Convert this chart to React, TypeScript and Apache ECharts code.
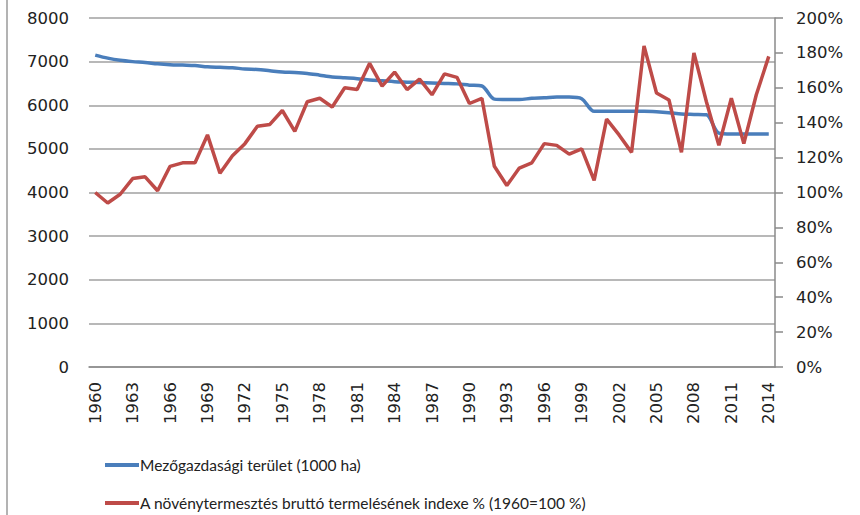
import React, { useEffect, useRef } from "react";
import * as echarts from "echarts";

const years: string[] = [];
for (let y = 1960; y <= 2014; y++) years.push(String(y));

const landArea = [
  7150, 7080, 7030, 7000, 6980, 6950, 6930, 6920, 6910, 6880,
  6870, 6860, 6830, 6820, 6790, 6760, 6750, 6730, 6690, 6650,
  6630, 6610, 6580, 6560, 6540, 6530, 6520, 6510, 6500, 6490,
  6460, 6440, 6140, 6130, 6130, 6160, 6170, 6190, 6190, 6150,
  5860, 5860, 5860, 5860, 5860, 5850, 5830, 5800, 5790, 5780,
  5360, 5340, 5340, 5340, 5340,
];

const cropIndex = [
  100, 94, 99, 108, 109, 101, 115, 117, 117, 133,
  111, 121, 128, 138, 139, 147, 135, 152, 154, 149,
  160, 159, 174, 161, 169, 159, 165, 156, 168, 166,
  151, 154, 115, 104, 114, 117, 128, 127, 122, 125,
  107, 142, 133, 123, 184, 157, 153, 123, 180, 152,
  127, 154, 128, 156, 178,
];

const seriesNames = [
  "Mezőgazdasági terület (1000 ha)",
  "A növénytermesztés bruttó termelésének indexe % (1960=100 %)",
];

export default function App() {
  const ref = useRef<HTMLDivElement>(null);
  useEffect(() => {
    if (!ref.current) return;
    const chart = echarts.init(ref.current, undefined, { renderer: "svg" });
    const axisFont = { fontFamily: "DejaVu Sans", fontSize: 16.5, color: "#222" };
    const legendBase = {
      orient: "horizontal",
      left: 100,
      padding: [2, 5, 2, 5],
      itemWidth: 34,
      itemHeight: 4,
      icon: "rect",
      textStyle: { fontFamily: "Lato", fontSize: 15.5, color: "#222", padding: [0, 0, 0, -4] },
    };
    chart.setOption({
      animation: false,
      backgroundColor: "#fff",
      grid: { left: 89, right: 85, top: 18, bottom: 148, containLabel: false },
      legend: [
        { ...legendBase, top: 455, data: [seriesNames[0]] },
        { ...legendBase, top: 493, data: [seriesNames[1]] },
      ],
      xAxis: {
        type: "category",
        data: years,
        boundaryGap: true,
        axisLine: { show: true, lineStyle: { color: "#8a8a8a", width: 1.5 } },
        axisTick: { show: false },
        axisLabel: { ...axisFont, rotate: 90, interval: 2, margin: 15 },
      },
      yAxis: [
        {
          type: "value",
          min: 0,
          max: 8000,
          interval: 1000,
          axisLine: { show: false },
          axisTick: { show: false },
          axisLabel: { ...axisFont, margin: 20, formatter: (v: number) => String(v) },
          splitLine: { show: true, lineStyle: { color: "#a0a0a0", width: 1.5 } },
        },
        {
          type: "value",
          min: 0,
          max: 200,
          interval: 20,
          position: "right",
          axisLine: { show: true, lineStyle: { color: "#8a8a8a", width: 1.5 } },
          axisTick: { show: true, inside: false, length: 8, lineStyle: { color: "#8a8a8a", width: 1.5 } },
          axisLabel: { ...axisFont, margin: 21, formatter: "{value}%" },
          splitLine: { show: false },
        },
      ],
      series: [
        {
          name: seriesNames[0],
          type: "line",
          data: landArea,
          yAxisIndex: 0,
          symbol: "none",
          smooth: 0.3,
          lineStyle: { color: "#4a7ebb", width: 3.5 },
          itemStyle: { color: "#4a7ebb" },
        },
        {
          name: seriesNames[1],
          type: "line",
          data: cropIndex,
          yAxisIndex: 1,
          symbol: "none",
          lineStyle: { color: "#be4b48", width: 3.5 },
          itemStyle: { color: "#be4b48" },
        },
      ],
      graphic: [
        {
          type: "line",
          shape: { x1: 7, y1: 0, x2: 7, y2: 515 },
          style: { stroke: "#9a9a9a", lineWidth: 1.5 },
        },
      ],
    });
    return () => chart.dispose();
  }, []);
  return (
    <div
      ref={ref}
      style={{ position: "absolute", left: 0, top: 0, width: 860, height: 515 }}
    />
  );
}
